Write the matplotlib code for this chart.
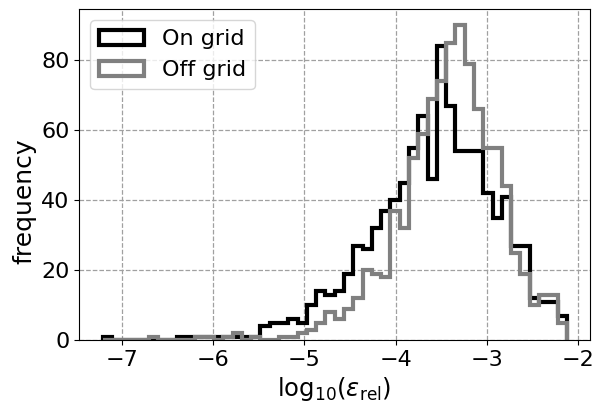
import numpy as np
import matplotlib
matplotlib.use("Agg")
import matplotlib.pyplot as plt

# shared bin range (log10 of relative error)
bin_lo = -7.213
bin_hi = -2.126
n_bins = 50

on_grid_counts = [1, 0, 0, 0, 0, 0, 0, 0, 1, 1,
                  1, 1, 1, 1, 1, 1, 1, 4, 5, 5,
                  6, 5, 10, 14, 13, 14, 19, 27, 26, 32,
                  37, 40, 45, 55, 64, 46, 84, 67, 54, 54,
                  54, 42, 35, 41, 27, 27, 12, 11, 11, 7]

off_grid_counts = [0, 0, 0, 0, 0, 1, 0, 0, 0, 0,
                   1, 1, 0, 1, 2, 0, 1, 0, 0, 1,
                   1, 2, 3, 5, 8, 6, 9, 12, 20, 19,
                   18, 37, 32, 52, 59, 69, 74, 85, 90, 79,
                   66, 55, 55, 44, 25, 19, 10, 13, 13, 5]

labels = ["On grid", "Off grid"]
colors = ["black", "gray"]

edges = np.linspace(bin_lo, bin_hi, n_bins + 1)
centers = 0.5 * (edges[:-1] + edges[1:])

fig = plt.figure(figsize=(5.95, 4.07), dpi=100)
ax = fig.add_axes([0.1333, 0.1646, 0.9916 - 0.1333, 0.9771 - 0.1646])

for counts, lab, col in zip([on_grid_counts, off_grid_counts], labels, colors):
    ax.hist(centers, bins=edges, weights=counts, histtype="step",
            color=col, linewidth=3.0, label=lab)

ax.grid(True, linestyle="--", color="#a0a0a0", linewidth=0.9)
ax.set_xlabel(r"$\mathrm{log}_{10}(\varepsilon_{\mathrm{rel}})$", fontsize=17.5)
ax.set_ylabel("frequency", fontsize=18)
ax.yaxis.set_label_coords(-0.085, 0.42)
ax.tick_params(labelsize=16)
ax.set_yticks([0, 20, 40, 60, 80])
ax.legend(loc="upper left", fontsize=16)

fig.savefig("out.png", dpi=100)
